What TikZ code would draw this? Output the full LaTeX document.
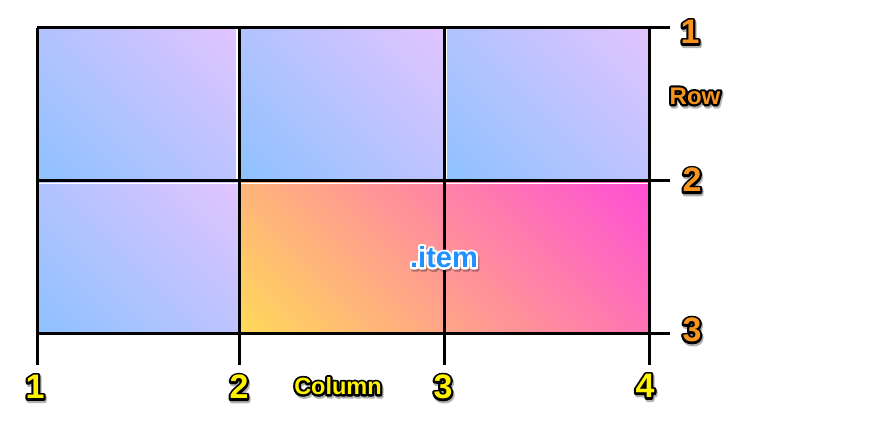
\documentclass[tikz,border=0pt]{standalone}
\usepackage{fontspec}
\setmainfont{Liberation Sans}
\newfontfamily\fillfont{Liberation Sans Bold}
\newfontfamily\olnum[FakeBold=13]{Liberation Sans Bold}
\newfontfamily\oltxt[FakeBold=18]{Liberation Sans Bold}
\newfontfamily\olitem[FakeBold=15]{Liberation Sans Bold}
\usetikzlibrary{calc}
\definecolor{blueBL}{HTML}{8DC2FF}
\definecolor{purpTR}{HTML}{E2C4FF}
\definecolor{itemBL}{HTML}{FFDA58}
\definecolor{itemTR}{HTML}{FF4ED6}
\definecolor{numYellow}{HTML}{FFF200}
\definecolor{numOrange}{HTML}{F7941D}
\definecolor{itemBlue}{HTML}{1E90FF}
\tikzset{
  gridline/.style={line width=3pt,black,line cap=butt},
  lbl/.style={inner sep=0pt,line join=round},
  shadow/.style={opacity=0.3,text=black}
}
% diagonal (45 degree) gradient cell: x0, ytop, x1, ybottom, colour bottom-left, colour top-right
\newcommand{\gcell}[6]{%
  \begin{scope}
    \clip (#1,#2) rectangle (#3,#4);
    \pgfmathsetmacro\gW{#3-#1}
    \pgfmathsetmacro\gH{#4-#2}
    \pgfmathsetmacro\gstep{(\gW+\gH)/90}
    \foreach \gi in {0,...,89} {
      \pgfmathsetmacro\gsa{\gstep*\gi}
      \pgfmathsetmacro\gsb{\gstep*(\gi+1)+0.8}
      \pgfmathsetmacro\gp{(\gi+0.5)/0.9}
      \fill[color=#6!\gp!#5]
        (#1+\gsa+700,#4+700) -- (#1+\gsb+700,#4+700) --
        (#1+\gsb-700,#4-700) -- (#1+\gsa-700,#4-700) -- cycle;
    }
  \end{scope}
}
% #1 name, #2 position, #3 fill colour, #4 outline colour, #5 size, #6 outline font, #7 text
\newcommand{\olabel}[7]{%
  \node[lbl,shadow] at ($(#2)+(1.2,2.2)$) {#6\fontsize{#5}{#5}\selectfont #7};
  \node[lbl,text=#4] at (#2) {#6\fontsize{#5}{#5}\selectfont #7};
  \node[lbl,text=#3] (#1) at (#2) {\fillfont\fontsize{#5}{#5}\selectfont #7};
}
\begin{document}
\begin{tikzpicture}[x=1pt,y=-1pt]
\useasboundingbox[fill=white] (0,0) rectangle (885,435);
% cells
\gcell{37}{28}{239}{181}{blueBL}{purpTR}
\gcell{239}{28}{444}{181}{blueBL}{purpTR}
\gcell{444}{28}{649}{181}{blueBL}{purpTR}
\gcell{37}{181}{239}{333}{blueBL}{purpTR}
\gcell{239}{181}{649}{333}{itemBL}{itemTR}
% thin white seams beside the grid lines
\draw[white,line width=1.2pt] (237,28) -- (237,181);
\draw[white,line width=1.2pt] (446.3,28) -- (446.3,181);
\draw[white,line width=1.2pt] (37,183.3) -- (649,183.3);
% grid coordinates
\coordinate (c1t) at (37,28);   \coordinate (c1b) at (37,365);
\coordinate (c2t) at (239,28);  \coordinate (c2b) at (239,365);
\coordinate (c3t) at (444,28);  \coordinate (c3b) at (444,365);
\coordinate (c4t) at (649,28);  \coordinate (c4b) at (649,365);
\coordinate (r1l) at (37,28);   \coordinate (r1r) at (670,28);
\coordinate (r2l) at (37,181);  \coordinate (r2r) at (670,181);
\coordinate (r3l) at (37,333);  \coordinate (r3r) at (670,333);
\draw[gridline] (c1t) -- (c1b);
\draw[gridline] (c2t) -- (c2b);
\draw[gridline] (c3t) -- (c3b);
\draw[gridline] (c4t) -- (c4b);
\draw[gridline] (r1l) -- (r1r);
\draw[gridline] (r2l) -- (r2r);
\draw[gridline] (r3l) -- (r3r);
% column labels
\olabel{col1}{35,387}{numYellow}{black}{34}{\olnum}{1}
\olabel{col2}{239,387}{numYellow}{black}{34}{\olnum}{2}
\olabel{col3}{443,387}{numYellow}{black}{34}{\olnum}{3}
\olabel{col4}{645,386}{numYellow}{black}{34}{\olnum}{4}
\olabel{coltxt}{338,386}{numYellow}{black}{23.5}{\oltxt}{Column}
% row labels
\olabel{row1}{690,32}{numOrange}{black}{34}{\olnum}{1}
\olabel{row2}{692,180}{numOrange}{black}{34}{\olnum}{2}
\olabel{row3}{692,330}{numOrange}{black}{34}{\olnum}{3}
\olabel{rowtxt}{695,96}{numOrange}{black}{24}{\oltxt}{Row}
% item label
\olabel{item}{444,257}{itemBlue}{white}{29}{\olitem}{.item}
\end{tikzpicture}
\end{document}
